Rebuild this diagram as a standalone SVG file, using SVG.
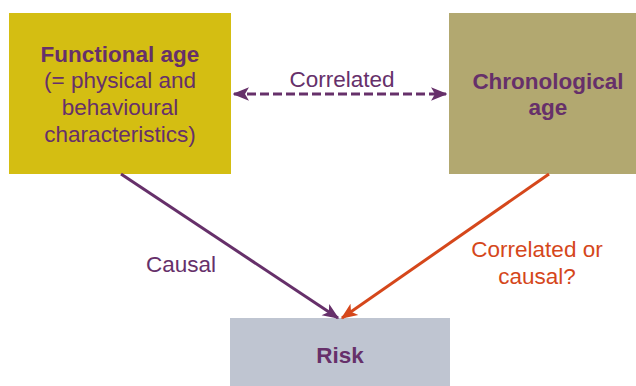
<svg xmlns="http://www.w3.org/2000/svg" width="636" height="386" viewBox="0 0 636 386">
<style>
text{font-family:"Liberation Sans",Arial,sans-serif;font-size:22.5px;text-anchor:middle;fill:#66306A}
.b{font-weight:bold}
.o{fill:#D5471B}
</style>
<defs>
<marker id="ap" viewBox="0 0 12 10" refX="11" refY="5" markerWidth="5.5" markerHeight="5.5" orient="auto-start-reverse" markerUnits="strokeWidth">
<path d="M0,0 L12,5 L0,10 L3,5 z" fill="#66306A"/>
</marker>
<marker id="ao" viewBox="0 0 12 10" refX="11" refY="5" markerWidth="5.5" markerHeight="5.5" orient="auto" markerUnits="strokeWidth">
<path d="M0,0 L12,5 L0,10 L3,5 z" fill="#D5471B"/>
</marker>
</defs>
<rect width="636" height="386" fill="#fff"/>
<g id="functional">
<rect x="9" y="13" width="222" height="161" fill="#D4BE12"/>
<text x="120" y="62" class="b">Functional age</text>
<text x="120" y="88">(= physical and</text>
<text x="120" y="115">behavioural</text>
<text x="120" y="142">characteristics)</text>
</g>
<g id="chronological">
<rect x="449" y="13" width="187" height="161" fill="#B2A870"/>
<text x="548" y="89" class="b">Chronological</text>
<text x="548" y="115" class="b">age</text>
</g>
<g id="risk">
<rect x="230" y="318" width="220" height="68" fill="#BFC5D1"/>
<text x="340" y="363" class="b">Risk</text>
</g>
<g id="connectors">
<line x1="234" y1="94" x2="446" y2="94" stroke="#66306A" stroke-width="3" stroke-dasharray="9,4" marker-start="url(#ap)" marker-end="url(#ap)"/>
<line x1="121" y1="174" x2="338" y2="318" stroke="#66306A" stroke-width="3" marker-end="url(#ap)"/>
<line x1="549" y1="174" x2="342" y2="318" stroke="#D5471B" stroke-width="3" marker-end="url(#ao)"/>
<text x="342" y="87">Correlated</text>
<text x="181" y="272">Causal</text>
<text x="537" y="257" class="o">Correlated or</text>
<text x="537" y="284" class="o">causal?</text>
</g>
</svg>
